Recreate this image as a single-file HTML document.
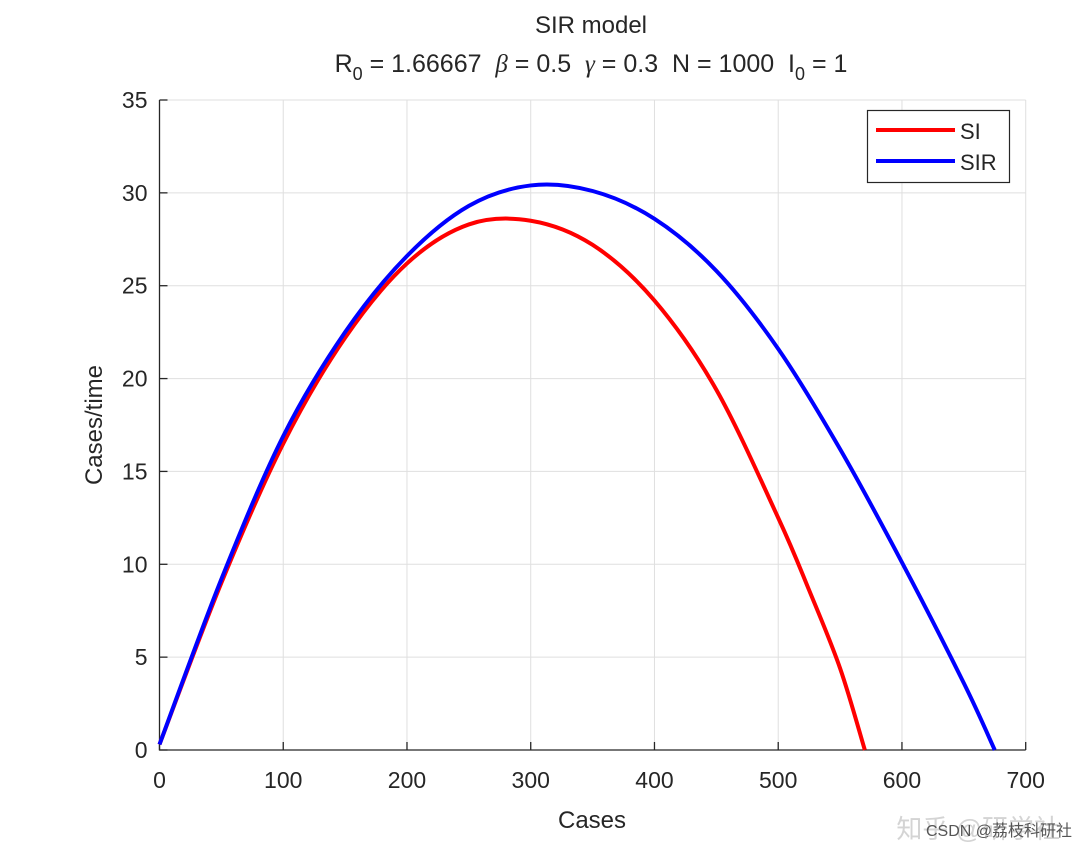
<!DOCTYPE html>
<html><head><meta charset="utf-8"><style>
body{margin:0;background:#fff;}
svg{display:block;font-family:"Liberation Sans","Noto Sans CJK SC",sans-serif;}
</style></head><body>
<svg id="chart" width="1088" height="850" viewBox="0 0 1088 850">
<g id="grid"></g>
<g id="axes"></g>
<g id="series"></g>
<text x="591" y="33" font-size="24" text-anchor="middle" fill="#262626">SIR model</text>
<text x="591" y="72" font-size="25" text-anchor="middle" fill="#262626" style="white-space:pre">R<tspan font-size="18" dy="8">0</tspan><tspan dy="-8"> = 1.66667&#160;&#160;</tspan><tspan font-family="Liberation Serif" font-style="italic">β</tspan> = 0.5&#160;&#160;<tspan font-family="Liberation Serif" font-style="italic">γ</tspan> = 0.3&#160;&#160;N = 1000&#160;&#160;I<tspan font-size="18" dy="8">0</tspan><tspan dy="-8"> = 1</tspan></text>
<text x="592" y="828" font-size="24" text-anchor="middle" fill="#262626">Cases</text>
<text x="102" y="425" font-size="24" text-anchor="middle" fill="#262626" transform="rotate(-90 102 425)">Cases/time</text>
<g>
<rect x="867.5" y="110.5" width="142" height="72" fill="#fff" stroke="#262626" stroke-width="1.2"/>
<line x1="876" y1="130" x2="955" y2="130" stroke="#f00" stroke-width="4"/>
<text x="960" y="139" font-size="22" fill="#262626">SI</text>
<line x1="876" y1="161" x2="955" y2="161" stroke="#00f" stroke-width="4"/>
<text x="960" y="170" font-size="22" fill="#262626">SIR</text>
</g>
<text x="1060" y="838" font-size="26" text-anchor="end" fill="#d4d4d4">知乎 @研学社</text>
<text x="1072" y="836" font-size="16" text-anchor="end" fill="#555">CSDN @荔枝科研社</text>
</svg>
<script>
const xTicks=[0,100,200,300,400,500,600,700];
const yTicks=[0,5,10,15,20,25,30,35];
const siX=[0,50,100,150,200,250,300,350,400,450,500,525,550,570];
const siY=[0.3,9.0,16.5,22.2,26.2,28.3,28.5,27.2,24.2,19.4,12.5,8.6,4.4,0];
const sirX=[0,50,100,150,200,250,300,350,400,450,500,550,600,650,675];
const sirY=[0.3,9.2,16.9,22.5,26.6,29.3,30.4,30.1,28.6,25.8,21.6,16.2,10.1,3.6,0];
const X0=159.5,X1=1025.7,Y0=750,Y1=100;
const sx=v=>X0+(X1-X0)*v/700, sy=v=>Y0-(Y0-Y1)*v/35;
const NS="http://www.w3.org/2000/svg";
const mk=(p,t,a)=>{const e=document.createElementNS(NS,t);for(const k in a)e.setAttribute(k,a[k]);p.appendChild(e);return e;};
const grid=document.getElementById('grid'),axes=document.getElementById('axes'),series=document.getElementById('series');
xTicks.forEach(t=>{
 const g=mk(grid,'line',{x1:sx(t),x2:sx(t),y1:Y1,y2:Y0,stroke:'#dfdfdf','stroke-width':1});
 
 
 const k=mk(axes,'line',{x1:sx(t),x2:sx(t),y1:Y0,y2:Y0-8,stroke:'#262626','stroke-width':1.3});
 
 
 const l=mk(axes,'text',{x:sx(t),y:Y0+38,'font-size':23,'text-anchor':'middle',fill:'#262626'});
 l.textContent=t;
 
 
});
yTicks.forEach(t=>{
 const g=mk(grid,'line',{x1:X0,x2:X1,y1:sy(t),y2:sy(t),stroke:'#dfdfdf','stroke-width':1});
 
 
 const k=mk(axes,'line',{x1:X0,x2:X0+8,y1:sy(t),y2:sy(t),stroke:'#262626','stroke-width':1.3});
 
 
 const l=mk(axes,'text',{x:X0-12,y:sy(t)+8,'font-size':23,'text-anchor':'end',fill:'#262626'});
 l.textContent=t;
 
 
});
const ax=mk(axes,'path',{d:`M${X0} ${Y1}V${Y0}H${X1}`,fill:'none',stroke:'#262626','stroke-width':1.3});


function smooth(xs,ys){
 const p=xs.map((x,i)=>[sx(x),sy(ys[i])]);
 let d=`M${p[0][0]} ${p[0][1]}`;
 for(let i=0;i<p.length-1;i++){
  const a=p[Math.max(0,i-1)],b=p[i],c=p[i+1],e=p[Math.min(p.length-1,i+2)];
  d+=`C${b[0]+(c[0]-a[0])/6} ${b[1]+(c[1]-a[1])/6} ${c[0]-(e[0]-b[0])/6} ${c[1]-(e[1]-b[1])/6} ${c[0]} ${c[1]}`;
 }
 return d;
}
const s1=mk(series,'path',{d:smooth(siX,siY),fill:'none',stroke:'#f00','stroke-width':4});


const s2=mk(series,'path',{d:smooth(sirX,sirY),fill:'none',stroke:'#00f','stroke-width':4});


</script>
</body></html>
